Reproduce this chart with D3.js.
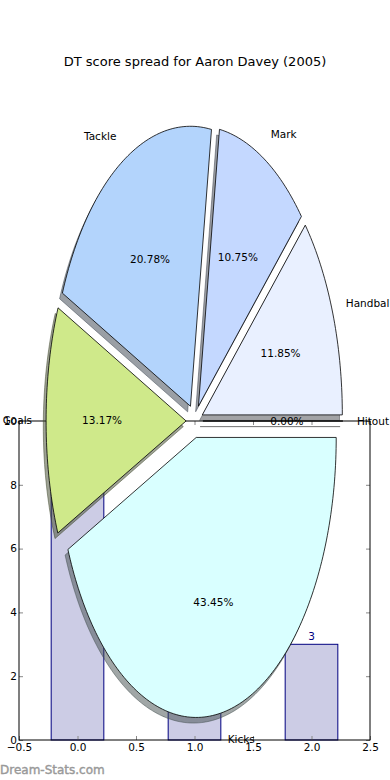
<!DOCTYPE html>
<html>
<head>
<meta charset="utf-8">
<script src="https://cdn.jsdelivr.net/npm/d3@7"></script>
<style>
body { margin: 0; background: #fff; }
text { font-family: "DejaVu Sans", sans-serif; }
</style>
</head>
<body>
<div id="chart"></div>
<script>
var canvasWidth = 390;
var canvasHeight = 780;

// pie data
var pieLabels = ["Hitout", "Handball", "Mark", "Tackle", "Goals", "Kicks"];
var pieValues = [0, 11.85, 10.75, 20.78, 13.17, 43.45];
var pieColors = ["#ffffff", "#e9f0ff", "#c4d8ff", "#b3d4fc", "#cfe98a", "#d9ffff"];
var explode = 0.06;

// bar data (behind the pie)
var barCats = [0, 1, 2];
var barValues = [10, 5, 3];
var xTicks = [-0.5, 0, 0.5, 1, 1.5, 2, 2.5];
var yTicks = [0, 2, 4, 6, 8, 10];

var svg = d3.select("#chart")
    .append("svg")
    .attr("width", canvasWidth)
    .attr("height", canvasHeight);

/*title*/
svg.append("text")
    .attr("x", 195)
    .attr("y", 61)
    .attr("text-anchor", "middle")
    .attr("dy", "0.35em")
    .style("font-size", "13px")
    .text("DT score spread for Aaron Davey (2005)");

/*bar axes*/
var xScale = d3.scaleLinear().domain([-0.5, 2.5]).range([19, 370]);
var yScale = d3.scaleLinear().domain([0, 10]).range([740, 421]);

var bars = svg.append("g");

bars.selectAll(".bar")
    .data(barValues)
    .join("rect")
    .attr("x", function(d, i) { return xScale(barCats[i] - 0.225); })
    .attr("width", xScale(0.225) - xScale(-0.225))
    .attr("y", function(d) { return yScale(d); })
    .attr("height", function(d) { return yScale(0) - yScale(d); })
    .attr("fill", "#ccccE5")
    .attr("stroke", "#000080")
    .attr("stroke-width", 1);

bars.selectAll(".blab")
    .data(barValues)
    .join("text")
    .attr("x", function(d, i) { return xScale(barCats[i]); })
    .attr("y", function(d) { return yScale(d) - 4; })
    .attr("text-anchor", "middle")
    .attr("fill", "#000080")
    .style("font-size", "10.5px")
    .text(function(d) { return d; });

function styleAxis(g) {
    g.select(".domain").remove();
    g.selectAll(".tick line").attr("stroke", "#888");
    g.selectAll(".tick text").style("font-size", "10.5px").attr("fill", "#000")
        .style("font-family", "DejaVu Sans");
}

bars.append("g")
    .attr("transform", "translate(0,740)")
    .call(d3.axisBottom(xScale).tickValues(xTicks).tickFormat(d3.format(".1f"))
        .tickSizeInner(-4).tickSizeOuter(0).tickPadding(4))
    .call(styleAxis);
bars.append("g")
    .attr("transform", "translate(0,421)")
    .call(d3.axisTop(xScale).tickValues(xTicks).tickFormat("")
        .tickSizeInner(-4).tickSizeOuter(0))
    .call(styleAxis);
bars.append("g")
    .attr("transform", "translate(19,0)")
    .call(d3.axisLeft(yScale).tickValues(yTicks).tickFormat(d3.format("d"))
        .tickSizeInner(-4).tickSizeOuter(0).tickPadding(2))
    .call(styleAxis);
bars.append("g")
    .attr("transform", "translate(370,0)")
    .call(d3.axisRight(yScale).tickValues(yTicks).tickFormat("")
        .tickSizeInner(-4).tickSizeOuter(0))
    .call(styleAxis);

bars.append("rect")
    .attr("x", xScale(-0.5))
    .attr("y", yScale(10))
    .attr("width", xScale(2.5) - xScale(-0.5))
    .attr("height", yScale(0) - yScale(10))
    .attr("fill", "none")
    .attr("stroke", "#000")
    .attr("stroke-width", 1);

/*pie axes, stretched like the original*/
var pxScale = d3.scaleLinear().domain([-1, 1]).range([194.5 - 140, 194.5 + 140]);
var pyScale = d3.scaleLinear().domain([-1, 1]).range([421 + 280, 421 - 280]);

var arcs = d3.pie().sort(null).startAngle(0).endAngle(2 * Math.PI)(pieValues);

var line = d3.line()
    .x(function(p) { return pxScale(p[0]); })
    .y(function(p) { return pyScale(p[1]); });

function wedge(a, ox, oy) {
    var pts = [[ox, oy]];
    var n = Math.max(2, Math.ceil((a.endAngle - a.startAngle) / 0.02));
    for (var k = 0; k <= n; k++) {
        var t = a.startAngle + (a.endAngle - a.startAngle) * k / n;
        pts.push([ox + Math.cos(t), oy + Math.sin(t)]);
    }
    return line(pts) + "Z";
}

function mid(a) { return (a.startAngle + a.endAngle) / 2; }

function shade(c) {
    var r = d3.rgb(c);
    return d3.rgb(r.r * 0.3, r.g * 0.3, r.b * 0.3);
}

var pie = svg.append("g");

/*shadows first*/
pie.selectAll(".shadow")
    .data(arcs)
    .join("path")
    .attr("d", function(a) {
        var m = mid(a);
        return wedge(a, explode * Math.cos(m) - 0.02, explode * Math.sin(m) - 0.02);
    })
    .attr("fill", function(a, i) { return shade(pieColors[i]); })
    .attr("fill-opacity", 0.5)
    .attr("stroke", function(a, i) { return shade(pieColors[i]); })
    .attr("stroke-opacity", 0.5)
    .attr("stroke-width", 1);

pie.selectAll(".slice")
    .data(arcs)
    .join("path")
    .attr("d", function(a) {
        var m = mid(a);
        return wedge(a, explode * Math.cos(m), explode * Math.sin(m));
    })
    .attr("fill", function(a, i) { return pieColors[i]; })
    .attr("stroke", "#000")
    .attr("stroke-width", 0.8);

var total = d3.sum(pieValues);

pie.selectAll(".label")
    .data(arcs)
    .join("text")
    .each(function(a, i) {
        var m = mid(a);
        var x = (explode + 1.1) * Math.cos(m);
        var y = (explode + 1.1) * Math.sin(m);
        d3.select(this)
            .attr("x", pxScale(x))
            .attr("y", pyScale(y))
            .attr("dy", "0.35em")
            .attr("text-anchor", x > 0 ? "start" : "end")
            .style("font-size", "10.5px")
            .text(pieLabels[i]);
    });

pie.selectAll(".pct")
    .data(arcs)
    .join("text")
    .each(function(a, i) {
        var m = mid(a);
        var x = (explode + 0.6) * Math.cos(m);
        var y = (explode + 0.6) * Math.sin(m);
        d3.select(this)
            .attr("x", pxScale(x))
            .attr("y", pyScale(y))
            .attr("dy", "0.35em")
            .attr("text-anchor", "middle")
            .style("font-size", "10.5px")
            .text(d3.format(".2f")(100 * pieValues[i] / total) + "%");
    });

/*watermark*/
svg.append("text")
    .attr("x", 0)
    .attr("y", 774)
    .attr("fill", "#999")
    .attr("stroke", "#999")
    .attr("stroke-width", 0.4)
    .style("font-size", "12px")
    .text("Dream-Stats.com");
</script>
</body>
</html>
